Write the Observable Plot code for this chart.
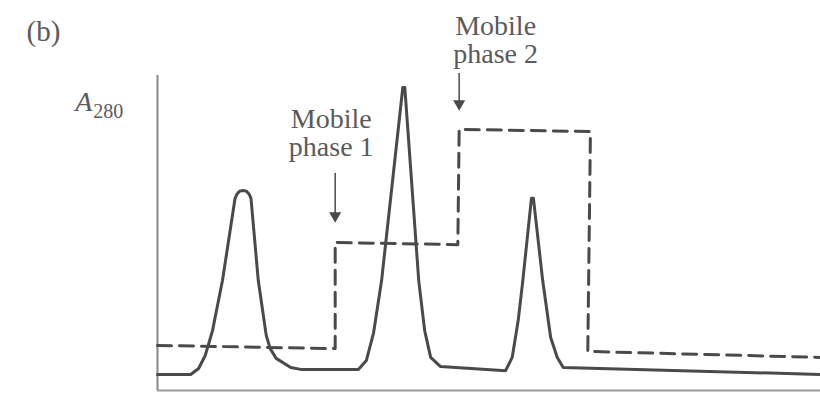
<!DOCTYPE html>
<html>
<head>
<meta charset="utf-8">
<script src="https://cdn.jsdelivr.net/npm/d3@7"></script>
<script src="https://cdn.jsdelivr.net/npm/@observablehq/plot@0.6"></script>
<style>
  html, body { margin: 0; padding: 0; background: #fff; }
  #chart svg { display: block; }
</style>
</head>
<body>
<div id="chart"></div>
<script>
// Elution profile (A280) vs. time, arbitrary units
const solidTime = [0, 5.0, 6.2, 7.2, 8.3, 9.8, 11.7, 12.0, 12.4, 12.9, 13.4, 13.8, 14.1, 15.2, 16.4, 17.0, 17.9, 20.1, 21.6,
  30.3, 31.5, 32.6, 33.8, 37.0, 37.3, 39.4, 40.3, 41.2, 42.7,
  52.5, 53.5, 54.4, 55.1, 56.4, 56.7, 58.1, 59.3, 60.3, 61.2, 100];
const solidA280 = [5.1, 5.1, 7.0, 11.1, 19.0, 34.9, 61.0, 62.4, 63.3, 63.5, 63.3, 62.4, 61.0, 34.9, 17.5, 13.3, 10.2, 7.3, 6.7,
  6.7, 9.5, 18.4, 34.9, 96.2, 96.2, 34.9, 19.0, 10.5, 7.6,
  6.3, 10.5, 22.2, 34.9, 61.0, 61.0, 34.9, 16.8, 10.5, 7.3, 5.1];

// Mobile phase (dashed step profile)
const phaseTime = [0, 26.8, 26.8, 45.3, 45.5, 65.3, 64.9, 100];
const phaseLevel = [14.3, 13.3, 47.0, 46.3, 82.9, 82.2, 12.4, 10.5];

// Annotations
const phaseLabels = ["Mobile\nphase 1", "Mobile\nphase 2"];
const phaseLabelX = [26.2, 51.0];
const phaseLabelY = [74.6, 104.1];
const arrowX = [26.8, 45.5];
const arrowTop = [68.9, 100.6];
const arrowTip = [55.5, 91.0];
const panelLabel = "(b)";
const yLabelMain = "A";
const yLabelSub = "280";

const solid = solidTime.map((t, i) => ({t, a: solidA280[i]}));
const dashed = phaseTime.map((t, i) => ({t, a: phaseLevel[i]}));
const labels = phaseLabels.map((s, i) => ({s, x: phaseLabelX[i], y: phaseLabelY[i]}));
const arrows = arrowX.map((x, i) => ({x, y1: arrowTop[i], y2: arrowTip[i]}));

const ink = "#4a4a4a";
const textInk = "#5a5a5a";
const serif = "'Liberation Serif', 'DejaVu Serif', serif";

const chart = Plot.plot({
  width: 820,
  height: 403,
  marginLeft: 157,
  marginRight: 0,
  marginTop: 75,
  marginBottom: 13,
  x: {domain: [0, 100], axis: null},
  y: {domain: [0, 100], axis: null},
  style: {fontFamily: serif, background: "#fff"},
  marks: [
    Plot.ruleX([0], {stroke: "#888", strokeWidth: 2}),
    Plot.ruleY([0], {stroke: "#999", strokeWidth: 2}),
    Plot.line(dashed, {x: "t", y: "a", stroke: ink, strokeWidth: 3, strokeDasharray: "14,8"}),
    Plot.line(solid, {x: "t", y: "a", stroke: ink, strokeWidth: 3, strokeLinejoin: "round"}),
    Plot.ruleX(arrows, {x: "x", y1: "y1", y2: "y2", stroke: ink, strokeWidth: 1.5}),
    Plot.dot(arrows, {x: "x", y: "y2", symbol: "triangle", rotate: 180, r: 4.5, fill: ink, stroke: "none"}),
    Plot.text(labels, {x: "x", y: "y", text: "s", lineAnchor: "bottom", lineHeight: 1.0,
      fontSize: 28, fill: textInk, textAnchor: "middle"}),
    Plot.text([panelLabel], {x: -17.2, y: 114.0, text: d => d, fontSize: 29, fill: textInk}),
    Plot.text([yLabelMain], {x: -12.4, y: 88.6, text: d => d, fontSize: 28, fontStyle: "italic",
      fill: textInk, textAnchor: "start", lineAnchor: "bottom"}),
    Plot.text([yLabelSub], {x: -9.7, y: 86.5, text: d => d, fontSize: 20,
      fill: textInk, textAnchor: "start", lineAnchor: "bottom"})
  ]
});
document.getElementById("chart").appendChild(chart);
</script>
</body>
</html>
